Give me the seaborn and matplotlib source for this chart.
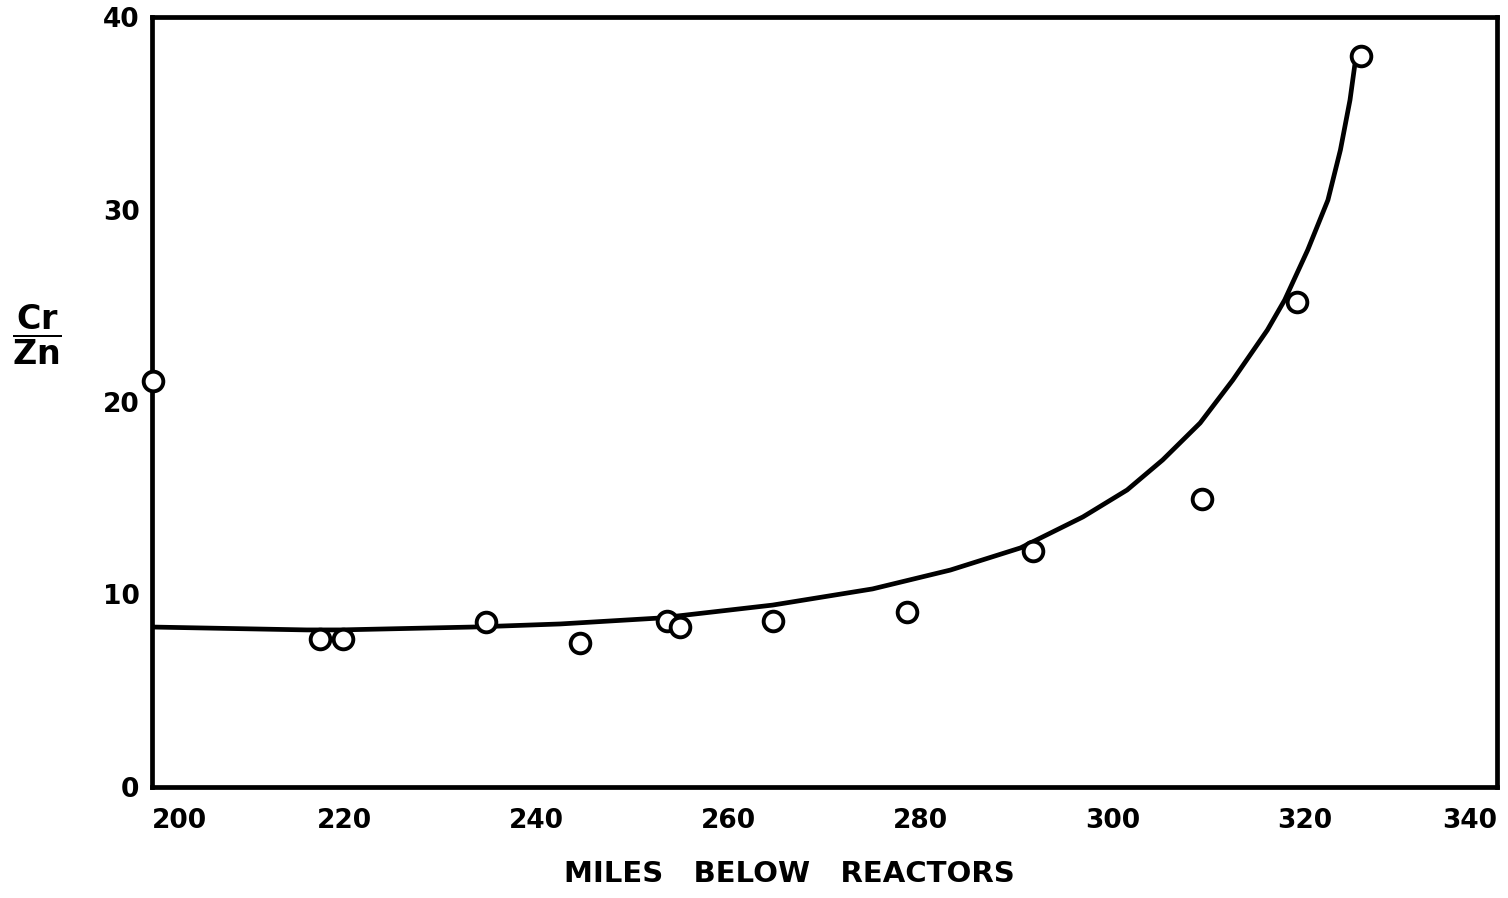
import matplotlib
matplotlib.use("Agg")
import matplotlib.pyplot as plt
import seaborn as sns
import pandas as pd

# Measured Cr/Zn ratios at sampling stations
miles = [200.1, 217.5, 219.9, 234.8, 244.6, 253.6, 255.0, 264.6, 278.6, 291.7, 309.3, 319.2, 325.8]
ratio = [21.1, 7.7, 7.7, 8.55, 7.5, 8.6, 8.3, 8.6, 9.1, 12.25, 14.95, 25.2, 38.0]

# Hand-fitted trend curve
curve_miles = [200.0, 216.1, 219.6, 233.4, 242.5, 252.9, 264.6, 275.0, 283.1, 290.4,
               296.9, 301.5, 305.2, 309.1, 312.5, 316.1, 317.9, 320.3, 322.4, 323.7,
               324.7, 325.2]
curve_ratio = [8.31, 8.16, 8.16, 8.31, 8.47, 8.78, 9.45, 10.29, 11.27, 12.42,
               14.03, 15.43, 16.99, 18.91, 21.14, 23.74, 25.30, 27.90, 30.49, 33.09,
               35.69, 37.51]

x_ticks = [200, 220, 240, 260, 280, 300, 320, 340]
y_ticks = [0, 10, 20, 30, 40]

pts = pd.DataFrame({"miles": miles, "ratio": ratio})
fit = pd.DataFrame({"miles": curve_miles, "ratio": curve_ratio})

sns.set_style("white")
plt.rcParams["font.family"] = ["DejaVu Sans"]
plt.rcParams["mathtext.fontset"] = "dejavusans"
plt.rcParams["text.color"] = "black"
plt.rcParams["xtick.color"] = "black"
plt.rcParams["ytick.color"] = "black"
plt.rcParams["axes.labelcolor"] = "black"

fig = plt.figure(figsize=(15.08, 8.98), dpi=100)
ax = fig.add_axes([152 / 1508, 1 - 787 / 898, (1497 - 152) / 1508, (787 - 17) / 898])

sns.lineplot(data=fit, x="miles", y="ratio", ax=ax, color="black", lw=3.4,
             sort=False, estimator=None, zorder=3,
             solid_joinstyle="round", solid_capstyle="round")
sns.scatterplot(data=pts, x="miles", y="ratio", ax=ax, s=200, marker="o",
                facecolor="white", edgecolor="black", linewidth=2.8,
                zorder=5, clip_on=False)

ax.set_xlim(200, 340)
ax.set_ylim(0, 40)
ax.set_xticks(x_ticks)
ax.set_yticks(y_ticks)
ax.set_xticklabels([str(t) for t in x_ticks], fontsize=19, fontweight="bold")
ax.set_yticklabels([str(t) for t in y_ticks], fontsize=19, fontweight="bold")
ax.tick_params(axis="x", length=0, pad=15)
ax.tick_params(axis="y", length=0, pad=9)
xl = ax.get_xticklabels()
xl[0].set_horizontalalignment("left")
xl[-1].set_horizontalalignment("right")

for side in ["left", "right", "top", "bottom"]:
    ax.spines[side].set_visible(True)
    ax.spines[side].set_color("black")
    ax.spines[side].set_linewidth(3.4)

ax.set_xlabel("MILES   BELOW   REACTORS", fontsize=21, fontweight="bold")
ax.xaxis.set_label_coords((789 - 152) / 1345, (787 - 860) / 770)
ax.set_ylabel(r"$\dfrac{\mathbf{Cr}}{\mathbf{Zn}}$", fontsize=24, rotation=0,
              va="center", ha="center")
ax.yaxis.set_label_coords((37 - 152) / 1345, (787 - 335) / 770)
ax.grid(False)

fig.savefig("out.png", dpi=100, facecolor="white")
